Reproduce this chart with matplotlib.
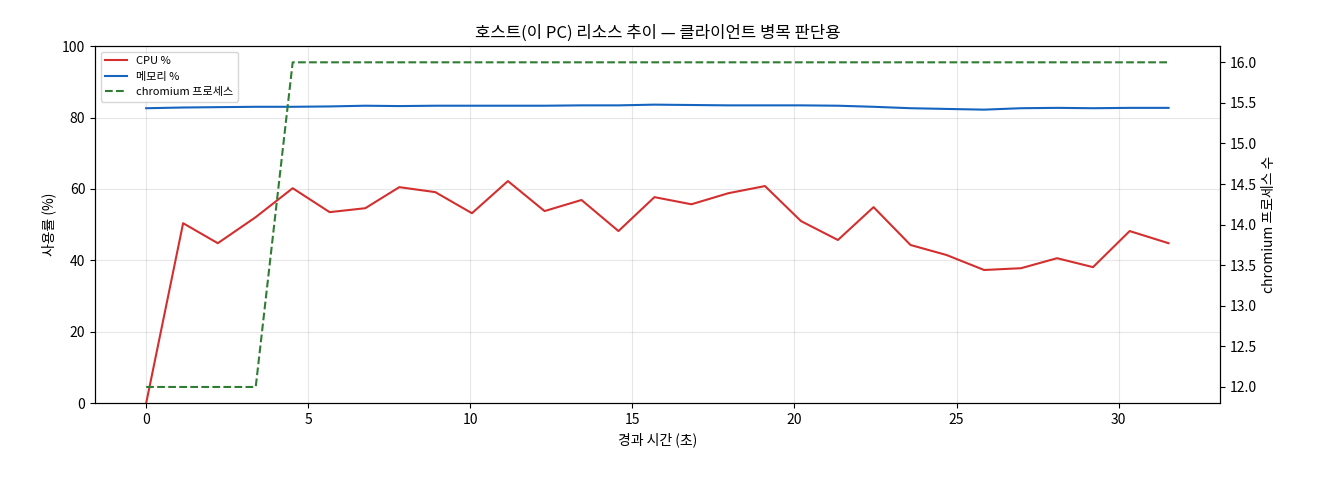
import matplotlib
matplotlib.use("Agg")
import matplotlib.pyplot as plt

plt.rcParams['font.family'] = ['Noto Sans CJK KR', 'DejaVu Sans']

# 경과 시간 (초)
times = [0.0, 1.14, 2.21, 3.38, 4.52, 5.66, 6.76, 7.81, 8.92, 10.05, 11.16, 12.29,
         13.43, 14.57, 15.68, 16.82, 17.96, 19.09, 20.20, 21.34, 22.44, 23.58, 24.69,
         25.85, 26.99, 28.10, 29.21, 30.34, 31.54]
cpu = [0.0, 50.4, 44.8, 52.1, 60.2, 53.5, 54.6, 60.5, 59.1, 53.2, 62.2, 53.8,
       56.9, 48.2, 57.7, 55.7, 58.8, 60.8, 51.0, 45.7, 54.9, 44.3, 41.5,
       37.3, 37.8, 40.6, 38.1, 48.2, 44.8]
mem = [82.6, 82.8, 82.9, 83.0, 83.0, 83.1, 83.3, 83.2, 83.3, 83.3, 83.3, 83.3,
       83.4, 83.4, 83.6, 83.5, 83.4, 83.4, 83.4, 83.3, 83.0, 82.6, 82.4,
       82.2, 82.6, 82.7, 82.6, 82.7, 82.7]
chromium = [12, 12, 12, 12, 16, 16, 16, 16, 16, 16, 16, 16,
            16, 16, 16, 16, 16, 16, 16, 16, 16, 16, 16,
            16, 16, 16, 16, 16, 16]

fig, ax = plt.subplots(figsize=(13.2, 4.8), dpi=100)
l1, = ax.plot(times, cpu, color='#d32f2f', linewidth=1.5, label='CPU %')
l2, = ax.plot(times, mem, color='#1565c0', linewidth=1.5, label='메모리 %')
ax.set_ylim(0, 100)
ax.set_xlabel('경과 시간 (초)')
ax.set_ylabel('사용률 (%)')
ax.grid(True, alpha=0.3)
ax.set_title('호스트(이 PC) 리소스 추이 — 클라이언트 병목 판단용', fontsize=12)

ax2 = ax.twinx()
l3, = ax2.plot(times, chromium, color='#2e7d32', linestyle='--', linewidth=1.5,
               label='chromium 프로세스')
ax2.set_ylim(11.8, 16.2)
ax2.set_ylabel('chromium 프로세스 수')

ax.legend(handles=[l1, l2, l3], loc='upper left', fontsize=8)

plt.subplots_adjust(left=0.072, right=0.924, top=0.904, bottom=0.16)
plt.savefig('out.png', dpi=100)
plt.close()
